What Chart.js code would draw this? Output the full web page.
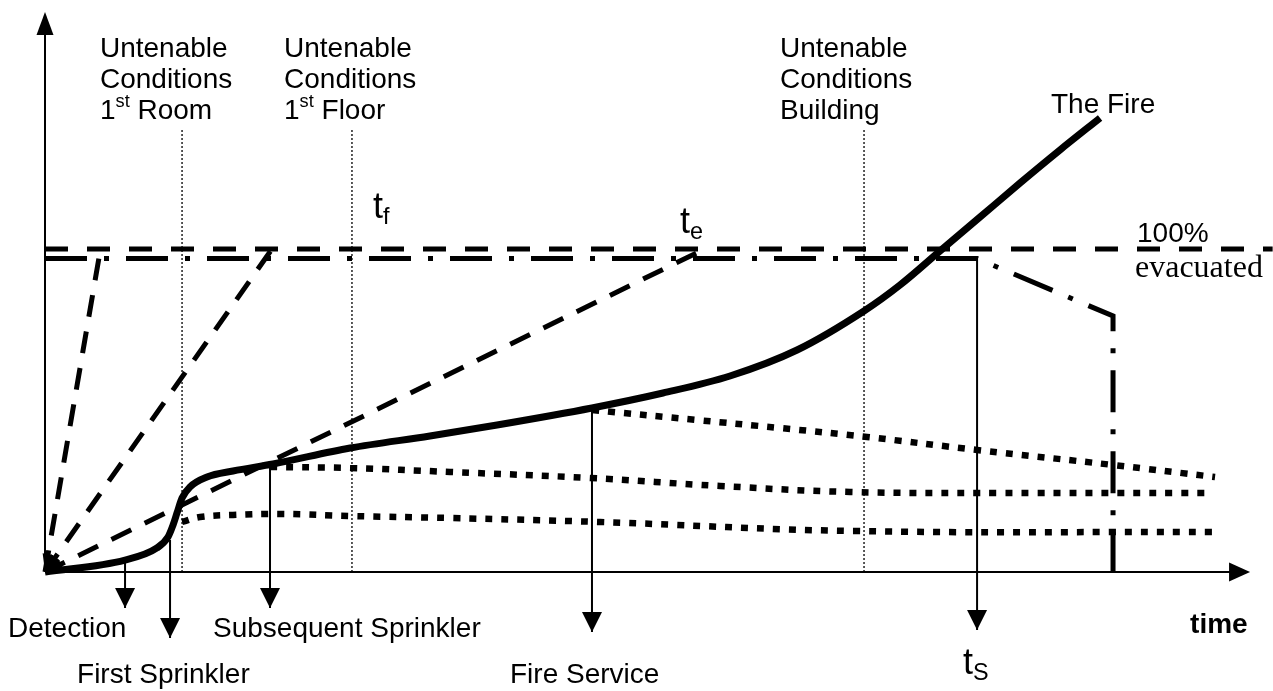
<!doctype html>
<html lang="en">
<head>
    <meta charset="utf-8">
    <title>Fire development and evacuation timeline</title>
    <script src="https://cdn.jsdelivr.net/npm/chart.js"></script>
    <style>
        html, body { margin: 0; padding: 0; background: #fff; }
        #wrap { width: 1273px; height: 691px; }
    </style>
</head>
<body>
<div id="wrap"><canvas id="timeline"></canvas></div>
<script>
    // fire growth curve (time, level)
    var fireTime  = [0, 6.67, 9.33, 10.25, 10.67, 11.0, 11.42, 12.08, 13.5, 15.67, 19.0, 25.42, 32.08, 37.67, 45.58, 51.5, 57.08, 62.67, 68.25, 71.25, 74.58, 77.92, 81.25, 84.58, 87.92];
    var fireLevel = [0, 2.14, 4.29, 6.25, 8.39, 10.54, 13.21, 15.18, 16.96, 18.04, 19.29, 22.14, 24.29, 26.25, 29.29, 31.96, 35.0, 39.64, 46.61, 51.25, 57.32, 63.39, 69.46, 75.36, 81.07];

    // controlled fire after first sprinkler / subsequent sprinklers / fire service
    var firstSprTime   = [11.42, 12.92, 15.67, 19.83, 25.42, 33.75, 46.25, 67.33, 97.33];
    var firstSprLevel  = [8.93, 9.82, 10.18, 10.36, 10.0, 9.64, 8.93, 7.32, 7.14];
    var nextSprTime    = [18.75, 25.42, 33.75, 45.42, 56.25, 67.08, 79.58, 96.83];
    var nextSprLevel   = [18.75, 18.57, 17.86, 16.79, 15.36, 14.29, 14.11, 14.11];
    var serviceTime    = [45.58, 54.33, 61.25, 68.5, 77.67, 89.0, 97.5];
    var serviceLevel   = [28.93, 27.14, 25.71, 24.11, 21.79, 19.11, 16.96];

    // evacuation lines
    var fullLevel      = 57.68;
    var fullLineEnd    = 102.3;
    var evacEndTime    = [4.58, 18.92, 54.42];
    var evacEndLevel   = [57.14, 57.68, 57.1];
    var sprEvacTime    = [0, 77.67, 89.0, 89.0];
    var sprEvacLevel   = [55.98, 55.98, 45.71, 0];

    // untenable conditions (room, floor, building)
    var untenableTime  = [11.42, 25.58, 68.25];
    var untenableTop   = 79.3;

    // events marked with arrows below the time axis
    var eventNames     = ['Detection', 'First Sprinkler', 'Subsequent Sprinkler', 'Fire Service', 'tS'];
    var eventTime      = [6.67, 10.42, 18.75, 45.58, 77.67];
    var eventFrom      = [2.14, 5.7, 18.9, 29.3, 56.0];
    var eventTip       = [-6.43, -11.79, -6.43, -10.71, -10.36];

    var FONT = '"Liberation Sans", Arial, Helvetica, sans-serif';
    var SERIF = '"Liberation Serif", "Times New Roman", serif';

    function pts(xs, ys) {
        return xs.map(function (x, i) { return {x: x, y: ys[i]}; });
    }

    var datasets = [];
    datasets.push({label: 'The Fire', data: pts(fireTime, fireLevel), borderWidth: 7,
        cubicInterpolationMode: 'monotone'});
    [[firstSprTime, firstSprLevel], [nextSprTime, nextSprLevel], [serviceTime, serviceLevel]].forEach(function (s) {
        datasets.push({data: pts(s[0], s[1]), borderWidth: 6.5, borderDash: [7, 9], tension: 0.4});
    });
    evacEndTime.forEach(function (t, i) {
        datasets.push({data: [{x: 0, y: 0}, {x: t, y: evacEndLevel[i]}], borderWidth: 5,
            borderDash: [22, 15], arrowStart: true});
    });
    datasets.push({data: [{x: 0, y: fullLevel}, {x: fullLineEnd, y: fullLevel}], borderWidth: 5, borderDash: [23, 19]});
    datasets.push({data: pts(sprEvacTime, sprEvacLevel), borderWidth: 5, borderDash: [42, 17, 5, 17]});
    untenableTime.forEach(function (t) {
        datasets.push({data: [{x: t, y: 0}, {x: t, y: untenableTop}], borderWidth: 1.3, borderDash: [2, 2]});
    });
    eventTime.forEach(function (t, i) {
        datasets.push({label: eventNames[i], data: [{x: t, y: eventFrom[i]}, {x: t, y: eventTip[i]}],
            borderWidth: 2, arrowEnd: true});
    });
    datasets.forEach(function (d) {
        d.showLine = true;
        d.borderColor = '#000';
        d.backgroundColor = '#000';
        d.pointRadius = 0;
        if (d.tension === undefined) d.tension = 0;
    });

    var labels = [
        {x: 4.58, y: 91.96, size: 28, lines: [[['Untenable']], [['Conditions']], [['1'], ['st', 'sup'], [' Room']]]},
        {x: 19.92, y: 91.96, size: 28, lines: [[['Untenable']], [['Conditions']], [['1'], ['st', 'sup'], [' Floor']]]},
        {x: 61.25, y: 91.96, size: 28, lines: [[['Untenable']], [['Conditions']], [['Building']]]},
        {x: 83.83, y: 81.96, size: 28, lines: [[['The Fire']]]},
        {x: 27.33, y: 63.21, size: 36, lines: [[['t'], ['f', 'sub']]]},
        {x: 52.92, y: 60.54, size: 36, lines: [[['t'], ['e', 'sub']]]},
        {x: 91.0, y: 58.93, size: 28, lines: [[['100%']]]},
        {x: 90.83, y: 52.68, size: 32, serif: true, lines: [[['evacuated']]]},
        {x: 95.42, y: -10.89, size: 28, bold: true, lines: [[['time']]]},
        {x: -3.08, y: -11.61, size: 28, lines: [[['Detection']]]},
        {x: 14.0, y: -11.61, size: 28, lines: [[['Subsequent Sprinkler']]]},
        {x: 2.67, y: -19.82, size: 28, lines: [[['First Sprinkler']]]},
        {x: 38.75, y: -19.82, size: 28, lines: [[['Fire Service']]]},
        {x: 76.5, y: -18.2, size: 36, lines: [[['t'], ['S', 'sub']]]}
    ];

    function arrowHead(ctx, tx, ty, fx, fy, len, wid) {
        var a = Math.atan2(ty - fy, tx - fx);
        var bx = tx - len * Math.cos(a), by = ty - len * Math.sin(a);
        var nx = -Math.sin(a) * wid / 2, ny = Math.cos(a) * wid / 2;
        ctx.beginPath();
        ctx.moveTo(tx, ty);
        ctx.lineTo(bx + nx, by + ny);
        ctx.lineTo(bx - nx, by - ny);
        ctx.closePath();
        ctx.fill();
    }

    var sketch = {
        id: 'sketch',
        beforeDatasetsDraw: function (chart) {
            var ctx = chart.ctx, xs = chart.scales.x, ys = chart.scales.y;
            var ox = xs.getPixelForValue(0), oy = ys.getPixelForValue(0);
            var yTop = ys.getPixelForValue(100), xEnd = xs.getPixelForValue(100.42);
            ctx.save();
            ctx.strokeStyle = '#000';
            ctx.fillStyle = '#000';
            ctx.lineWidth = 2;
            ctx.beginPath();
            ctx.moveTo(ox, oy);
            ctx.lineTo(ox, yTop + 10);
            ctx.moveTo(ox, oy);
            ctx.lineTo(xEnd - 10, oy);
            ctx.stroke();
            arrowHead(ctx, ox, yTop, ox, oy, 23, 17);
            arrowHead(ctx, xEnd, oy, ox, oy, 21, 19);
            ctx.restore();
        },
        afterDatasetsDraw: function (chart) {
            var ctx = chart.ctx, xs = chart.scales.x, ys = chart.scales.y;
            ctx.save();
            ctx.fillStyle = '#000';
            chart.data.datasets.forEach(function (d, i) {
                var p = chart.getDatasetMeta(i).data;
                if (d.arrowEnd) arrowHead(ctx, p[1].x, p[1].y, p[0].x, p[0].y, 20, 20);
                if (d.arrowStart) arrowHead(ctx, p[0].x, p[0].y, p[1].x, p[1].y, 18, 11);
            });
            ctx.textBaseline = 'alphabetic';
            ctx.textAlign = 'left';
            labels.forEach(function (l) {
                var x0 = xs.getPixelForValue(l.x), y0 = ys.getPixelForValue(l.y);
                l.lines.forEach(function (segs, li) {
                    var cx = x0, cy = y0 + li * 31;
                    segs.forEach(function (s) {
                        var size = l.size, dy = 0;
                        if (s[1] === 'sup') { size = l.size * 0.65; dy = -l.size * 0.42; }
                        if (s[1] === 'sub') { size = l.size * 0.65; dy = l.size * 0.17; }
                        ctx.font = (l.bold ? 'bold ' : '') + size + 'px ' + (l.serif ? SERIF : FONT);
                        ctx.fillText(s[0], cx, cy + dy);
                        cx += ctx.measureText(s[0]).width;
                    });
                });
            });
            ctx.restore();
        }
    };

    new Chart(document.getElementById('timeline'), {
        type: 'scatter',
        data: {datasets: datasets},
        options: {
            responsive: true,
            maintainAspectRatio: false,
            animation: false,
            layout: {padding: 0},
            scales: {
                x: {type: 'linear', min: -3.75, max: 102.33, display: false},
                y: {type: 'linear', min: -21.25, max: 102.14, display: false}
            },
            plugins: {
                legend: {display: false},
                tooltip: {enabled: false}
            }
        },
        plugins: [sketch]
    });
</script>
</body>
</html>
